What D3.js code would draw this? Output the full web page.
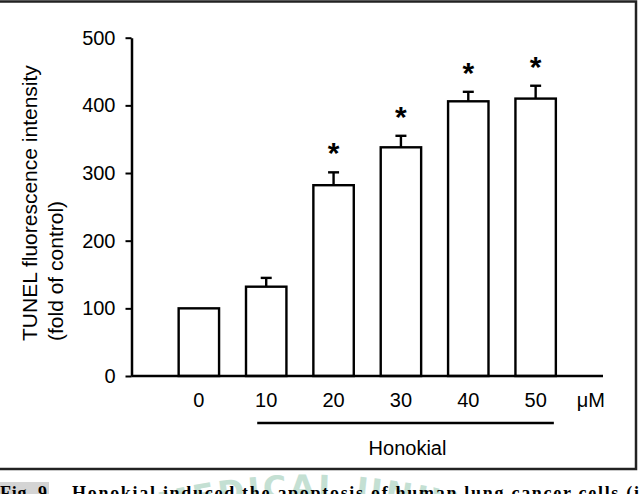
<!DOCTYPE html>
<html>
<head>
<meta charset="utf-8">
<script src="https://cdn.jsdelivr.net/npm/d3@7"></script>
<style>
  html, body { margin: 0; padding: 0; background: #fff; }
  svg { display: block; }
  text { font-family: "Liberation Sans", Arial, sans-serif; fill: #000; }
</style>
</head>
<body>
<svg id="chart" width="639" height="494"></svg>
<script>
// ---- data ----
const categories = ["0", "10", "20", "30", "40", "50"];
const values = [100, 132, 282, 338, 406, 410];
const errors = [0, 13, 19, 17, 14, 19];
const significant = [false, false, true, true, true, true];
const yTicks = [0, 100, 200, 300, 400, 500];
const yTitle = ["TUNEL fluorescence intensity", "(fold of control)"];
const unitLabel = "\u03bcM";
const groupLabel = "Honokial";
const captionHead = "Fig. 9";
const captionBody = "Honokial induced the apoptosis of human lung cancer cells (i";
const watermark = "MEDICAL UNIV";

const svg = d3.select("#chart");

// watermark (faint logo text on an arc)
const wm = svg.append("g");
const cx = 308, cy = 1098, r = 600;
wm.append("path").attr("id", "wmarc")
  .attr("d", `M ${cx - r} ${cy} A ${r} ${r} 0 0 1 ${cx + r} ${cy}`)
  .attr("fill", "none");
wm.append("text")
  .style("font-family", "'DejaVu Sans', sans-serif")
  .style("font-weight", "bold")
  .style("font-size", "32px")
  .style("letter-spacing", "3px")
  .style("fill", "#c4e0d3")
  .append("textPath").attr("href", "#wmarc")
  .attr("startOffset", "50%").attr("text-anchor", "middle")
  .text(watermark);

// frame
svg.append("rect")
  .attr("x", -2).attr("y", 1.5).attr("width", 638).attr("height", 467.5)
  .attr("fill", "none").attr("stroke", "#222").attr("stroke-width", 2.5);

// scales
const x = d3.scaleBand().domain(categories).range([131.5, 603])
  .paddingInner(0.4).paddingOuter(0.7);
const y = d3.scaleLinear().domain([0, 500]).range([376, 37.7]);

// y axis
const yAxis = svg.append("g").attr("transform", "translate(131.5,0)")
  .call(d3.axisLeft(y).tickValues(yTicks).tickSize(6).tickSizeOuter(0).tickPadding(10));
yAxis.select(".domain").attr("stroke", "#000").attr("stroke-width", 2.5);
yAxis.selectAll(".tick line").attr("stroke", "#000").attr("stroke-width", 2);
yAxis.selectAll(".tick text").style("font-size", "20px")
  .style("font-family", "'Liberation Sans', Arial, sans-serif").attr("fill", "#000");

// y title
const yt = svg.append("text")
  .attr("transform", "translate(36.5,341) rotate(-90)")
  .style("font-size", "21px");
yt.selectAll("tspan").data(yTitle).join("tspan")
  .attr("x", 0).attr("y", (d, i) => i * 26.5)
  .text(d => d);

// bars
const bw = x.bandwidth();
svg.append("g").selectAll("rect").data(values).join("rect")
  .attr("x", (d, i) => x(categories[i]))
  .attr("y", d => y(d))
  .attr("width", bw)
  .attr("height", d => y(0) - y(d))
  .attr("fill", "#fff").attr("stroke", "#000").attr("stroke-width", 2.4);

// error bars
const eb = svg.append("g").attr("stroke", "#000").attr("stroke-width", 2.4);
values.forEach((v, i) => {
  if (!errors[i]) return;
  const c = x(categories[i]) + bw / 2;
  eb.append("line").attr("x1", c).attr("x2", c).attr("y1", y(v)).attr("y2", y(v + errors[i]));
  eb.append("line").attr("x1", c - 5.5).attr("x2", c + 5.5)
    .attr("y1", y(v + errors[i])).attr("y2", y(v + errors[i]));
});

// significance stars
const starData = values.map((v, i) => ({ cat: categories[i], top: v + errors[i], sig: significant[i] }))
  .filter(d => d.sig);
svg.append("g").selectAll("text").data(starData).join("text")
  .attr("x", d => x(d.cat) + bw / 2)
  .attr("y", d => y(d.top) - 26 + 17)
  .attr("text-anchor", "middle")
  .style("font-size", "30px")
  .style("font-weight", "bold")
  .text("*");

// x axis baseline
svg.append("line")
  .attr("x1", 131.5).attr("x2", x.range()[1]).attr("y1", y(0)).attr("y2", y(0))
  .attr("stroke", "#000").attr("stroke-width", 2.5);

// x labels
svg.append("g").selectAll("text").data(categories).join("text")
  .attr("x", d => x(d) + bw / 2)
  .attr("y", 407)
  .attr("text-anchor", "middle")
  .style("font-size", "20px")
  .text(d => d);

svg.append("text")
  .attr("x", 605).attr("y", 407).attr("text-anchor", "end")
  .style("font-size", "20px")
  .text(unitLabel);

// Honokial group line and label
const gx1 = x("10") + bw / 2 - 9;
const gx2 = x("50") + bw - 2;
svg.append("line")
  .attr("x1", gx1).attr("x2", gx2).attr("y1", 423).attr("y2", 423)
  .attr("stroke", "#000").attr("stroke-width", 2.4);
svg.append("text")
  .attr("x", (gx1 + gx2) / 2 + 2).attr("y", 455).attr("text-anchor", "middle")
  .style("font-size", "20px")
  .text(groupLabel);

// caption (cut off at bottom)
svg.append("rect").attr("x", 0).attr("y", 482).attr("width", 49).attr("height", 12)
  .attr("fill", "#d4d4d4");
svg.append("text")
  .attr("x", 0).attr("y", 499)
  .style("font-family", "'Liberation Serif', 'Times New Roman', serif")
  .style("font-weight", "bold").style("font-size", "18px")
  .attr("textLength", 47).attr("lengthAdjust", "spacing")
  .text(captionHead);
svg.append("text")
  .attr("x", 72).attr("y", 499)
  .style("font-family", "'Liberation Serif', 'Times New Roman', serif")
  .style("font-weight", "bold").style("font-size", "18px")
  .attr("textLength", 567).attr("lengthAdjust", "spacing")
  .text(captionBody);
</script>
</body>
</html>
